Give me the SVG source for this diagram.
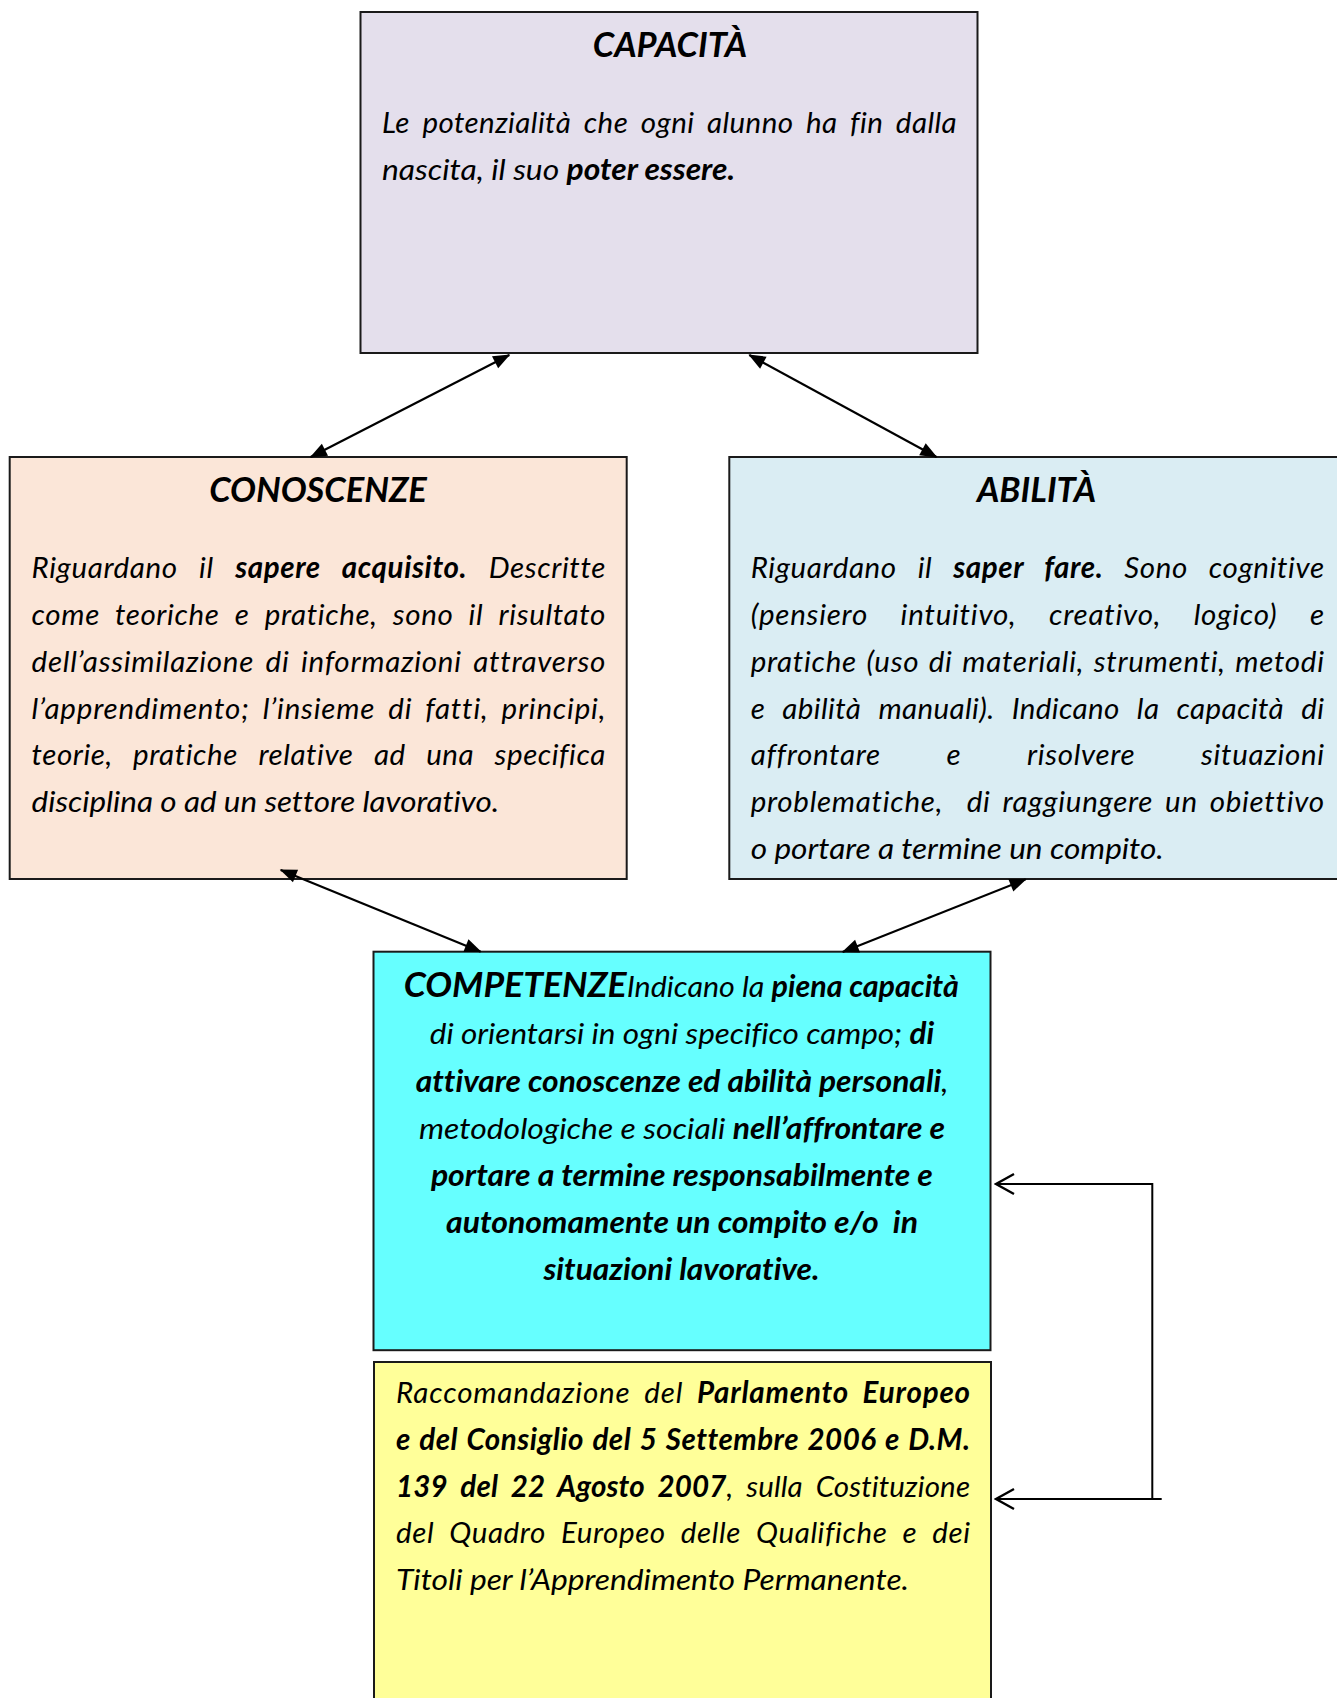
<svg xmlns="http://www.w3.org/2000/svg" width="1337" height="1698" viewBox="0 0 1337 1698">
<style>
.box{stroke:#1a1a1a;stroke-width:2}
.t{font-family:Lato,"Open Sans","Liberation Sans",sans-serif;font-style:italic;font-size:29.5px;fill:#000;font-variant-ligatures:none;font-feature-settings:"liga" 0,"clig" 0}
.h{font-family:Lato,"Open Sans","Liberation Sans",sans-serif;font-style:italic;font-weight:bold;font-size:34.5px;fill:#000}
.b{font-weight:bold}
.c{text-anchor:middle}
.con{stroke:#000;stroke-width:2.2;fill:none;marker-start:url(#ah);marker-end:url(#ah)}
.elb{stroke:#000;stroke-width:2;fill:none;marker-end:url(#oh)}
</style>
<defs>
<marker id="ah" markerUnits="userSpaceOnUse" markerWidth="20" markerHeight="16" viewBox="-17 -8 19 16" refX="0" refY="0" orient="auto-start-reverse">
<path d="M1,0 L-16,-6.8 L-16,6.8 Z" fill="#000"/>
</marker>
<marker id="oh" markerUnits="userSpaceOnUse" markerWidth="24" markerHeight="26" viewBox="-22 -13 24 26" refX="0" refY="0" orient="auto">
<path d="M-18,-10 L0,0 L-18,10" fill="none" stroke="#000" stroke-width="2.4"/>
</marker>
</defs>

<g id="capacita">
<rect class="box" x="360.5" y="12" width="617" height="341" fill="#E4DFEC"/>
<text class="h c" x="670" y="57">CAPACITÀ</text>
<text class="t" x="382" y="133.3" word-spacing="5.2" textLength="574.6" lengthAdjust="spacing">Le potenzialità che ogni alunno ha fin dalla</text>
<text class="t" x="382" y="180" textLength="353" lengthAdjust="spacingAndGlyphs">nascita, il suo <tspan class="b">poter essere.</tspan></text>
</g>

<g id="conoscenze">
<rect class="box" x="9.7" y="457" width="617" height="422" fill="#FBE6D8"/>
<text class="h c" x="318" y="501.7">CONOSCENZE</text>
<text class="t" x="31.6" y="578" word-spacing="13.9" textLength="573.7" lengthAdjust="spacing">Riguardano il <tspan class="b">sapere acquisito.</tspan> Descritte</text>
<text class="t" x="31.6" y="625" word-spacing="7.7" textLength="573.7" lengthAdjust="spacing">come teoriche e pratiche, sono il risultato</text>
<text class="t" x="31.6" y="671.5" word-spacing="3.9" textLength="573.7" lengthAdjust="spacing">dell’assimilazione di informazioni attraverso</text>
<text class="t" x="31.6" y="718.5" word-spacing="5.35" textLength="573.7" lengthAdjust="spacing">l’apprendimento; l’insieme di fatti, principi,</text>
<text class="t" x="31.6" y="765" word-spacing="13" textLength="573.7" lengthAdjust="spacing">teorie, pratiche relative ad una specifica</text>
<text class="t" x="31.6" y="811.7" textLength="467.5" lengthAdjust="spacingAndGlyphs">disciplina o ad un settore lavorativo.</text>
</g>

<g id="abilita">
<rect class="box" x="729.3" y="457" width="617" height="422" fill="#DAEDF3"/>
<text class="h c" x="1036.5" y="501.7">ABILITÀ</text>
<text class="t" x="750.7" y="578" word-spacing="13.4" textLength="573.3" lengthAdjust="spacing">Riguardano il <tspan class="b">saper fare.</tspan> Sono cognitive</text>
<text class="t" x="750.7" y="625" word-spacing="24.85" textLength="573.3" lengthAdjust="spacing">(pensiero intuitivo, creativo, logico) e</text>
<text class="t" x="750.7" y="671.5" word-spacing="1.9" textLength="573.3" lengthAdjust="spacing">pratiche (uso di materiali, strumenti, metodi</text>
<text class="t" x="750.7" y="718.5" word-spacing="9.85" textLength="573.3" lengthAdjust="spacing">e abilità manuali). Indicano la capacità di</text>
<text class="t" x="750.7" y="765" word-spacing="58.2" textLength="573.3" lengthAdjust="spacing">affrontare e risolvere situazioni</text>
<text class="t" x="750.7" y="811.7" word-spacing="4.24" textLength="573.3" lengthAdjust="spacing" xml:space="preserve">problematiche,  di raggiungere un obiettivo</text>
<text class="t" x="750.7" y="858.5" textLength="413" lengthAdjust="spacingAndGlyphs">o portare a termine un compito.</text>
</g>

<g id="competenze">
<rect class="box" x="373.5" y="951.7" width="617" height="398.5" fill="#66FFFF"/>
<text class="t" x="403.8" y="997" textLength="555" lengthAdjust="spacingAndGlyphs"><tspan class="b" font-size="34.5px">COMPETENZE</tspan>Indicano la <tspan class="b">piena capacità</tspan></text>
<text class="t" x="429.8" y="1044" textLength="504.5" lengthAdjust="spacingAndGlyphs">di orientarsi in ogni specifico campo; <tspan class="b">di</tspan></text>
<text class="t" x="415.7" y="1091.5" textLength="532.7" lengthAdjust="spacingAndGlyphs"><tspan class="b">attivare conoscenze ed abilità personali</tspan>,</text>
<text class="t" x="419" y="1138.5" textLength="526" lengthAdjust="spacingAndGlyphs">metodologiche e sociali <tspan class="b">nell’affrontare e</tspan></text>
<text class="t b" x="430.9" y="1186" textLength="502" lengthAdjust="spacingAndGlyphs">portare a termine responsabilmente e</text>
<text class="t b" x="446" y="1233" textLength="472" lengthAdjust="spacingAndGlyphs" xml:space="preserve">autonomamente un compito e/o  in</text>
<text class="t b" x="543.5" y="1280" textLength="276" lengthAdjust="spacingAndGlyphs">situazioni lavorative.</text>
</g>

<g id="raccomandazione">
<rect class="box" x="374" y="1362" width="617" height="360" fill="#FFFF99"/>
<text class="t" x="396" y="1403" word-spacing="6.2" textLength="574" lengthAdjust="spacing">Raccomandazione del <tspan class="b">Parlamento Europeo</tspan></text>
<text class="t b" x="396" y="1450" word-spacing="1.5" textLength="574" lengthAdjust="spacing">e del Consiglio del 5 Settembre 2006 e D.M.</text>
<text class="t" x="396" y="1496.7" word-spacing="6" textLength="574" lengthAdjust="spacing"><tspan class="b">139 del 22 Agosto 2007</tspan>, sulla Costituzione</text>
<text class="t" x="396" y="1543.3" word-spacing="7.55" textLength="574" lengthAdjust="spacing">del Quadro Europeo delle Qualifiche e dei</text>
<text class="t" x="396" y="1590" textLength="513" lengthAdjust="spacingAndGlyphs">Titoli per l’Apprendimento Permanente.</text>
</g>

<g id="connectors">
<line class="con" x1="509.3" y1="355" x2="310.7" y2="457"/>
<line class="con" x1="749.3" y1="355" x2="936.5" y2="457"/>
<line class="con" x1="280.7" y1="870" x2="480.7" y2="951.7"/>
<line class="con" x1="1025.7" y1="879.3" x2="842.7" y2="952"/>
<path class="elb" d="M1152.3,1499 L1152.3,1184 L996,1184"/>
<path class="elb" d="M1161.7,1499 L996,1499"/>
</g>
</svg>
